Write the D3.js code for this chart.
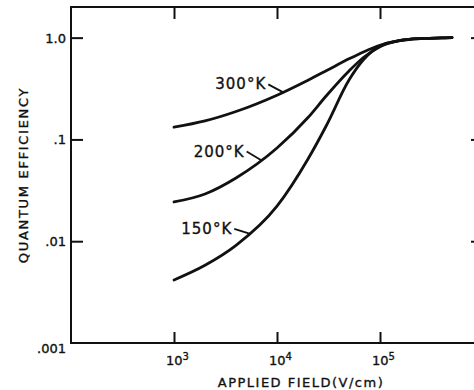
<!DOCTYPE html>
<html>
<head>
<meta charset="utf-8">
<script src="https://cdn.jsdelivr.net/npm/d3@7"></script>
<style>
  body { margin: 0; background: #fff; }
  svg { display: block; }
  text { font-family: "DejaVu Sans", sans-serif; fill: #111; stroke: #111; stroke-width: 0.35; }
</style>
</head>
<body>
<svg id="chart"></svg>
<script>
const width = 474;
const height = 390;

// data
const field = [1e3, 2e3, 4e3, 1e4, 2e4, 3e4, 5e4, 7e4, 1e5, 1.5e5, 2e5, 3e5, 4e5, 5e5];
const eff300 = [0.132, 0.152, 0.188, 0.272, 0.382, 0.472, 0.619, 0.728, 0.842, 0.93, 0.965, 0.985, 0.995, 1.0];
const eff200 = [0.0243, 0.0291, 0.0418, 0.0823, 0.164, 0.267, 0.47, 0.645, 0.815, 0.93, 0.965, 0.985, 0.995, 1.0];
const eff150 = [0.00416, 0.0058, 0.0091, 0.0221, 0.0642, 0.1355, 0.383, 0.616, 0.827, 0.93, 0.965, 0.985, 0.995, 1.0];

const xTicks = [1e3, 1e4, 1e5];
const xTickExp = ["3", "4", "5"];
const yTicks = [1, 0.1, 0.01, 0.001];
const yTickLabels = ["1.0", ".1", ".01", ".001"];

const curveNames = ["300°K", "200°K", "150°K"];
// field where each label's leader touches its curve
const labelField = [1.15e4, 7.1e3, 5.5e3];

const series = [eff300, eff200, eff150];

const svg = d3.select("#chart")
    .attr("width", width)
    .attr("height", height);

const x = d3.scaleLog().domain([1e2, 1e6]).range([71, 483]);
const y = d3.scaleLog().domain([0.001, 2]).range([343, 7]);

// frame
svg.append("rect")
    .attr("x", x(1e2))
    .attr("y", y(2))
    .attr("width", x(1e6) - x(1e2))
    .attr("height", y(0.001) - y(2))
    .attr("fill", "none")
    .attr("stroke", "#111")
    .attr("stroke-width", 2);

// bottom axis
const xAxis = svg.append("g")
    .attr("transform", `translate(0,${y(0.001)})`)
    .call(d3.axisBottom(x).tickValues(xTicks).tickSize(-11).tickPadding(13).tickFormat(""));
xAxis.select(".domain").remove();
xAxis.selectAll(".tick line").attr("stroke", "#111").attr("stroke-width", 2);
xAxis.selectAll(".tick text")
    .attr("font-size", 13)
    .attr("dx", 3)
    .each(function (d, i) {
        const t = d3.select(this);
        t.append("tspan").text("10");
        t.append("tspan").attr("font-size", 10).attr("dy", -5).text(xTickExp[i]);
    });

// top ticks
const xTop = svg.append("g")
    .attr("transform", `translate(0,${y(2)})`)
    .call(d3.axisTop(x).tickValues(xTicks).tickSize(-12).tickFormat(""));
xTop.select(".domain").remove();
xTop.selectAll(".tick line").attr("stroke", "#111").attr("stroke-width", 2);

// left axis
const yAxis = svg.append("g")
    .attr("transform", `translate(${x(1e2)},0)`)
    .call(d3.axisLeft(y).tickValues(yTicks).tickSize(-12).tickPadding(5)
        .tickFormat((d, i) => yTickLabels[i]));
yAxis.select(".domain").remove();
yAxis.selectAll(".tick line").attr("stroke", "#111").attr("stroke-width", 2)
    .filter(d => d === 0.001).remove();
yAxis.selectAll(".tick text")
    .attr("font-size", 13)
    .attr("dy", d => d === 0.001 ? "0.7em" : "0.35em");

// right ticks
const yRight = svg.append("g")
    .attr("transform", `translate(${x(1e6)},0)`)
    .call(d3.axisRight(y).tickValues([1, 0.1, 0.01]).tickSize(-12).tickFormat(""));
yRight.select(".domain").remove();
yRight.selectAll(".tick line").attr("stroke", "#111").attr("stroke-width", 2);

// axis titles
svg.append("text")
    .attr("x", 301)
    .attr("y", 387)
    .attr("text-anchor", "middle")
    .attr("font-size", 13)
    .attr("letter-spacing", 1.5)
    .text("APPLIED FIELD(V/cm)");

svg.append("text")
    .attr("transform", `translate(27.5,${(y(2) + y(0.001)) / 2}) rotate(-90)`)
    .attr("text-anchor", "middle")
    .attr("font-size", 13)
    .attr("letter-spacing", 1.7)
    .text("QUANTUM EFFICIENCY");

// curves
const line = d3.line()
    .x((d, i) => x(field[i]))
    .y(d => y(d))
    .curve(d3.curveMonotoneX);

const paths = svg.selectAll(".curve")
    .data(series)
    .enter().append("path")
    .attr("class", "curve")
    .attr("d", line)
    .attr("fill", "none")
    .attr("stroke", "#111")
    .attr("stroke-width", 2.8)
    .attr("stroke-linecap", "round");

// find the point of a drawn path at a given screen x
function pointAtX(node, px) {
    let lo = 0, hi = node.getTotalLength();
    for (let k = 0; k < 40; k++) {
        const mid = (lo + hi) / 2;
        if (node.getPointAtLength(mid).x < px) lo = mid; else hi = mid;
    }
    return node.getPointAtLength(lo);
}

// curve labels with leader lines
const leaderOffset = [[-15, -8], [-15, -9], [-16, -5]];
paths.each(function (d, i) {
    const px = x(labelField[i]);
    const py = pointAtX(this, px).y;
    const [ox, oy] = leaderOffset[i];
    svg.append("line")
        .attr("x1", px).attr("y1", py)
        .attr("x2", px + ox).attr("y2", py + oy)
        .attr("stroke", "#111")
        .attr("stroke-width", 1.8);
    svg.append("text")
        .attr("x", px + ox - 2)
        .attr("y", py + oy + 5)
        .attr("text-anchor", "end")
        .attr("font-size", 15)
        .attr("letter-spacing", 1)
        .text(curveNames[i]);
});
</script>
</body>
</html>
